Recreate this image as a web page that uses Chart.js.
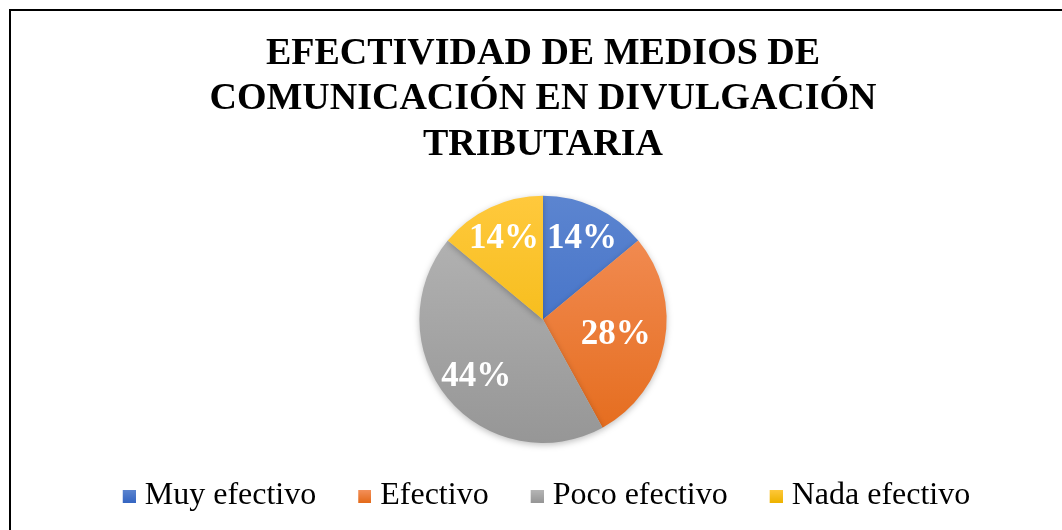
<!DOCTYPE html>
<html>
<head>
<meta charset="utf-8">
<script src="https://cdn.jsdelivr.net/npm/chart.js@4"></script>
<style>
  html, body { margin: 0; padding: 0; background: #fff; overflow: hidden; }
  #marco { position: absolute; left: 9px; top: 9px; width: 1100px; height: 600px;
           border-left: 2px solid #000; border-top: 2px solid #000; }
  #caja { position: absolute; left: 11px; top: 11px; width: 1064px; height: 519px; }
</style>
</head>
<body>
<div id="marco"></div>
<div id="caja"><canvas id="grafico"></canvas></div>
<script>
// datos del grafico
var categorias = ['Muy efectivo', 'Efectivo', 'Poco efectivo', 'Nada efectivo'];
var porcentajes = [14, 28, 44, 14];
var etiquetas = ['14%', '28%', '44%', '14%'];
var titulo = ['EFECTIVIDAD DE MEDIOS DE', 'COMUNICACIÓN EN DIVULGACIÓN', 'TRIBUTARIA'];

// colores (arriba / abajo del degradado)
var coresArriba = ['#5c85d0', '#f4915c', '#b7b7b7', '#ffc93d'];
var coresAbajo = ['#3566c2', '#e46b1b', '#969696', '#eeb300'];

function degradado(context) {
    var chart = context.chart;
    var area = chart.chartArea;
    var i = context.dataIndex;
    if (!area) return coresAbajo[i];
    var g = chart.ctx.createLinearGradient(0, area.top, 0, area.bottom);
    g.addColorStop(0, coresArriba[i]);
    g.addColorStop(1, coresAbajo[i]);
    return g;
}

// cuadritos de la leyenda (con degradado); el cuadro va a la derecha
// de una imagen mas ancha para que quede pegado al texto
function cuadrito(i) {
    var c = document.createElement('canvas');
    c.width = 27;
    c.height = 13;
    var cx = c.getContext('2d');
    var g = cx.createLinearGradient(0, 0, 0, 13);
    g.addColorStop(0, coresArriba[i]);
    g.addColorStop(1, coresAbajo[i]);
    cx.fillStyle = g;
    cx.fillRect(14, 0, 13, 13);
    return c;
}

// sombra suave debajo del pastel
var sombra = {
    id: 'sombra',
    beforeDatasetsDraw: function (chart) {
        var ctx = chart.ctx;
        ctx.save();
        ctx.shadowColor = 'rgba(0,0,0,0.25)';
        ctx.shadowBlur = 6;
        ctx.shadowOffsetY = 2;
    },
    afterDatasetsDraw: function (chart) {
        chart.ctx.restore();
    }
};

// etiquetas de porcentaje dentro de cada porcion
var distancias = [0.74, 0.6, 0.7, 0.74];
var rotulos = {
    id: 'rotulos',
    afterDraw: function (chart) {
        var ctx = chart.ctx;
        var arcos = chart.getDatasetMeta(0).data;
        ctx.save();
        ctx.fillStyle = '#fff';
        ctx.font = 'bold 35px "Liberation Serif", "Times New Roman", serif';
        ctx.textAlign = 'center';
        ctx.textBaseline = 'middle';
        arcos.forEach(function (arco, i) {
            var a = (arco.startAngle + arco.endAngle) / 2;
            var r = arco.outerRadius * distancias[i];
            ctx.fillText(etiquetas[i], arco.x + Math.cos(a) * r, arco.y + Math.sin(a) * r + 2);
        });
        ctx.restore();
    }
};

const ctx = document.getElementById('grafico');
new Chart(ctx, {
    type: 'pie',
    data: {
        labels: categorias,
        datasets: [{
            data: porcentajes,
            backgroundColor: degradado,
            borderWidth: 0,
            radius: '98.4%'
        }]
    },
    options: {
        responsive: true,
        maintainAspectRatio: false,
        animation: false,
        layout: { padding: { top: 20, bottom: 8 } },
        plugins: {
            tooltip: { enabled: false },
            title: {
                display: true,
                text: titulo,
                color: '#000',
                font: { family: '"Liberation Serif", "Times New Roman", serif', size: 38, weight: 'bold', lineHeight: 1.2 },
                padding: { top: 0, bottom: 26 }
            },
            legend: {
                position: 'bottom',
                labels: {
                    color: '#000',
                    usePointStyle: true,
                    pointStyleWidth: 13,
                    boxHeight: 13,
                    padding: 35,
                    font: { family: '"Liberation Serif", "Times New Roman", serif', size: 32 },
                    generateLabels: function (chart) {
                        return categorias.map(function (c, i) {
                            return { text: c, fillStyle: coresAbajo[i], strokeStyle: coresAbajo[i], lineWidth: 0, pointStyle: cuadrito(i), index: i };
                        });
                    }
                }
            }
        }
    },
    plugins: [sombra, rotulos]
});
</script>
</body>
</html>
